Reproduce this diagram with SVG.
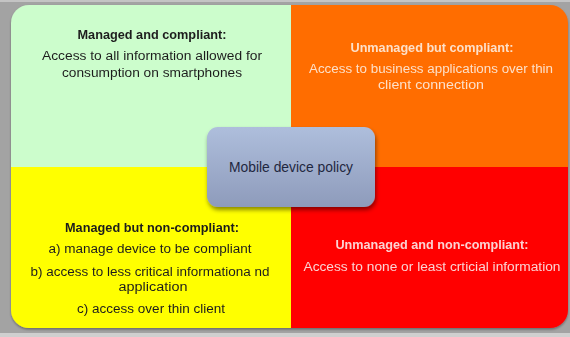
<svg xmlns="http://www.w3.org/2000/svg" width="570" height="337" viewBox="0 0 570 337">
  <defs>
    <linearGradient id="boxGrad" x1="0" y1="0" x2="0" y2="1">
      <stop offset="0" stop-color="#aebedc"/>
      <stop offset="1" stop-color="#8e9bbb"/>
    </linearGradient>
    <filter id="shadow" x="-10%" y="-10%" width="125%" height="130%">
      <feDropShadow dx="1" dy="3" stdDeviation="2" flood-color="#000" flood-opacity="0.45"/>
    </filter>
    <filter id="qshadow" x="-5%" y="-5%" width="110%" height="115%">
      <feDropShadow dx="0" dy="1.5" stdDeviation="1.2" flood-color="#000" flood-opacity="0.35"/>
    </filter>
  </defs>
  <style>
    text { font-family: "Liberation Sans", Arial, sans-serif; text-anchor: middle; }
    .title { font-weight: bold; font-size: 12.5px; }
    .body { font-size: 12.5px; }
    .dark { fill: #1e1e1e; }
    .peach { fill: #fde0c9; }
    .pink { fill: #fbd3d3; }
    .center { font-size: 14px; fill: #1f2740; }
  </style>
  <rect x="0" y="0" width="570" height="337" fill="#a3a3a3"/>
  <rect x="0" y="0" width="570" height="2" fill="#c4c4c4"/>
  <rect x="0" y="333" width="570" height="4" fill="#cfcfcf"/>

  <g filter="url(#qshadow)">
    <g id="managed-compliant">
      <path d="M11,167 V23 A18,18 0 0 1 29,5 H291 V167 Z" fill="#ccfdcc"/>
      <text class="title dark" x="152" y="39" textLength="149" lengthAdjust="spacingAndGlyphs">Managed and compliant:</text>
      <text class="body dark" x="152" y="60" textLength="220" lengthAdjust="spacingAndGlyphs">Access to all information allowed for</text>
      <text class="body dark" x="152" y="77" textLength="180" lengthAdjust="spacingAndGlyphs">consumption on smartphones</text>
    </g>
    <g id="unmanaged-compliant">
      <path d="M291,5 H550 A18,18 0 0 1 568,23 V167 H291 Z" fill="#ff6d00"/>
      <text class="title peach" x="432" y="52" textLength="163" lengthAdjust="spacingAndGlyphs">Unmanaged but compliant:</text>
      <text class="body peach" x="431" y="73" textLength="244" lengthAdjust="spacingAndGlyphs">Access to business applications over thin</text>
      <text class="body peach" x="431" y="89" textLength="106" lengthAdjust="spacingAndGlyphs">client connection</text>
    </g>
    <g id="managed-noncompliant">
      <path d="M11,167 H291 V328 H29 A18,18 0 0 1 11,310 Z" fill="#ffff00"/>
      <text class="title dark" x="152" y="232" textLength="174" lengthAdjust="spacingAndGlyphs">Managed but non-compliant:</text>
      <text class="body dark" x="150" y="253" textLength="203" lengthAdjust="spacingAndGlyphs">a) manage device to be compliant</text>
      <text class="body dark" x="150" y="276" textLength="239" lengthAdjust="spacingAndGlyphs">b) access to less critical informationa nd</text>
      <text class="body dark" x="153" y="291" textLength="69" lengthAdjust="spacingAndGlyphs">application</text>
      <text class="body dark" x="151" y="313" textLength="148" lengthAdjust="spacingAndGlyphs">c) access over thin client</text>
    </g>
    <g id="unmanaged-noncompliant">
      <path d="M291,167 H568 V310 A18,18 0 0 1 550,328 H291 Z" fill="#ff0000"/>
      <text class="title pink" x="432" y="249" textLength="193" lengthAdjust="spacingAndGlyphs">Unmanaged and non-compliant:</text>
      <text class="body pink" x="432" y="271" textLength="257" lengthAdjust="spacingAndGlyphs">Access to none or least crticial information</text>
    </g>
  </g>

  <g id="mobile-device-policy">
    <rect x="207" y="127" width="168" height="80" rx="11" ry="11" fill="url(#boxGrad)" filter="url(#shadow)"/>
    <text class="center" x="291" y="172" textLength="124" lengthAdjust="spacingAndGlyphs">Mobile device policy</text>
  </g>

  <g id="connectors"/>
</svg>
